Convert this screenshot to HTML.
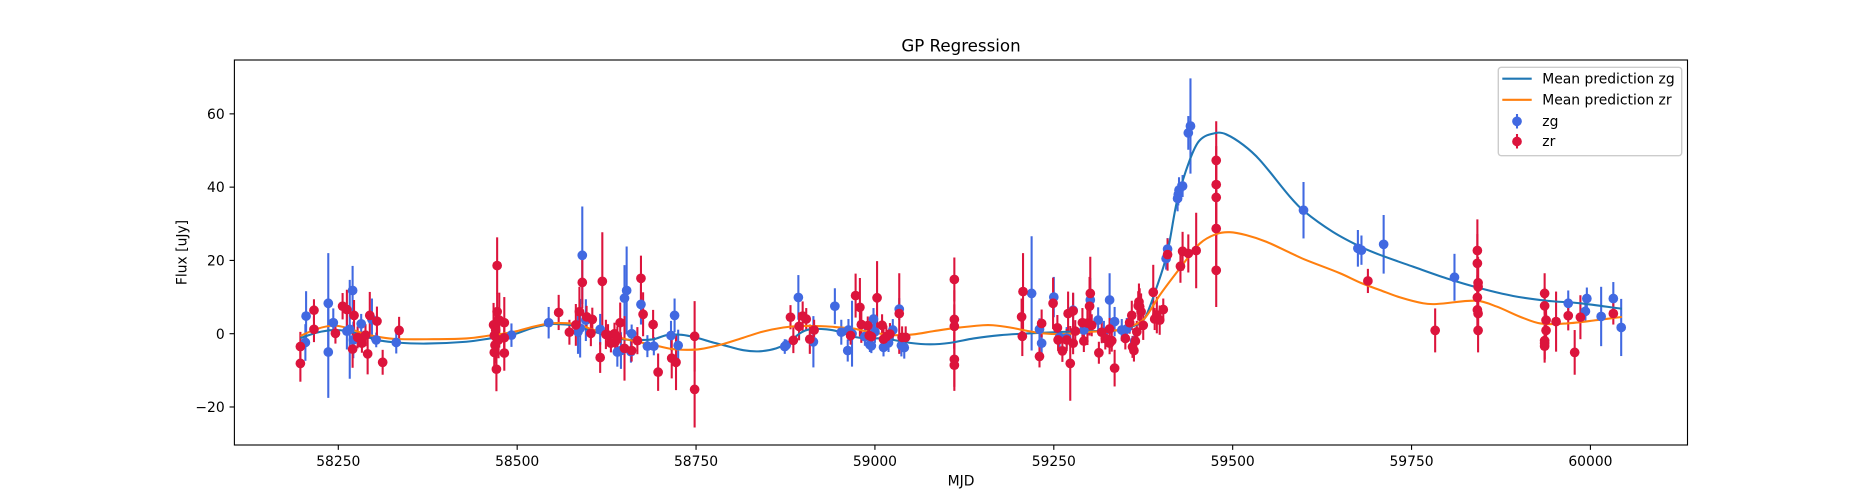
<!DOCTYPE html>
<html lang="en">
<head>
<meta charset="utf-8">
<title>GP Regression</title>
<style>
html,body{margin:0;padding:0;background:#fff;width:1875px;height:500px;overflow:hidden}
svg{display:block}
text{font-family:"DejaVu Sans","Liberation Sans",sans-serif;fill:#000}
</style>
</head>
<body>
<svg id="chart" xmlns="http://www.w3.org/2000/svg" width="1875" height="500" viewBox="0 0 1875 500">
  <rect x="0" y="0" width="1875" height="500" fill="#fff"/>
  <text x="961" y="51.7" font-size="16.67" text-anchor="middle">GP Regression</text>
  <text x="961" y="485.7" font-size="13.89" text-anchor="middle">MJD</text>
  <text transform="translate(186.5 252.5) rotate(-90)" font-size="13.89" text-anchor="middle">Flux [uJy]</text>
  <g id="bars"></g>
  <g id="curves"></g>
  <g id="points"></g>
  <g id="axes"></g>
  <g id="legend">
    <rect x="1498.3" y="67.3" width="183.4" height="88.4" rx="3" ry="3" fill="#fff" fill-opacity="0.8" stroke="#ccc" stroke-width="1.39"/>
    <line x1="1502.3" x2="1531.7" y1="78.7" y2="78.7" stroke="#1f77b4" stroke-width="2.08"/>
    <text x="1542.3" y="83.4" font-size="13.89">Mean prediction zg</text>
    <line x1="1502.3" x2="1531.7" y1="99.8" y2="99.8" stroke="#ff7f0e" stroke-width="2.08"/>
    <text x="1542.3" y="104.4" font-size="13.89">Mean prediction zr</text>
    <line x1="1517" x2="1517" y1="114" y2="128.5" stroke="#4169e1" stroke-width="2.08"/>
    <circle cx="1517" cy="121.3" r="4.86" fill="#4169e1"/>
    <text x="1542.3" y="125.8" font-size="13.89">zg</text>
    <line x1="1517" x2="1517" y1="134" y2="148.5" stroke="#dc143c" stroke-width="2.08"/>
    <circle cx="1517" cy="141.5" r="4.86" fill="#dc143c"/>
    <text x="1542.3" y="146" font-size="13.89">zr</text>
  </g>
</svg>
<script>
const xTickValues = [58250, 58500, 58750, 59000, 59250, 59500, 59750, 60000];
const yTickValues = [-20, 0, 20, 40, 60];

const zgMjd = [58204,58205,58236,58236,58243,58262,58266,58270,58271,58282,58297,58303,58331,58492,58544,58585,58588,58591,58596,58616,58640,58645,58650,58653,58659,58660,58673,58682,58691,58715,58720,58725,58874,58876,58893,58914,58944,58953,58962,58963,58968,58986,58993,58995,58998,59000,59012,59019,59025,59034,59037,59041,59219,59230,59233,59250,59258,59268,59277,59292,59301,59312,59320,59328,59335,59345,59352,59363,59407,59409,59423,59424,59425,59430,59438,59441,59599,59675,59680,59711,59810,59969,59993,59995,60015,60032,60043];
const zgFlux = [-2.4,4.8,8.3,-5,3,0.7,1.2,11.8,-1.7,2.7,3.9,-1.7,-2.4,-0.4,3,0.5,1.5,21.4,3.7,1.2,-5,-4.6,9.7,11.8,-4.9,0,8,-3.4,-3.4,-0.5,5,-3.2,-3.5,-3.1,9.9,-2.2,7.5,0.4,-4.6,1,0,-0.8,-3,-3.3,4,0.5,-3.7,-2.5,1,6.7,-3.2,-3.8,11,1.2,-2.6,10,-1,-1.2,6.4,1,9.2,3.7,0.5,9.2,3.3,1,1.3,-2,20.5,23.1,36.9,38,39.2,40.3,54.8,56.7,33.7,23.3,22.8,24.4,15.4,8.3,6.1,9.6,4.7,9.6,1.7];
const zgErr = [5,6.8,13.7,12.5,3.9,5,13.5,6.7,5,2.7,5.7,2,3,3.2,4.3,6,8,13.3,5.7,4.2,4,5,9,12,3,2.5,5.5,3,2.5,4,4.6,4.3,2,1.5,6.1,7,4.9,3.4,3,3,9,2.5,2,2,3,3,2.5,2.5,3,3,3,3,15.6,3,3,5.5,3,3,4.6,3,6,3.5,3,7.3,4,3,3,3,3,3,3.5,3,3.5,3,4.6,13,7.7,5,4,8,6.4,3.5,3,3,8.1,4.5,7.8];

const zrMjd = [58197,58197,58216,58216,58246,58256,58262,58270,58272,58277,58283,58288,58291,58294,58304,58312,58335,58467,58468,58468,58469,58470,58471,58472,58472,58474,58475,58482,58482,58482,58558,58573,58582,58587,58591,58597,58603,58605,58616,58619,58624,58627,58631,58636,58637,58640,58644,58650,58660,58668,58673,58676,58690,58697,58716,58722,58748,58748,58882,58886,58894,58899,58904,58909,58915,58966,58973,58979,58981,58990,58992,58995,59003,59010,59012,59016,59021,59034,59038,59043,59111,59111,59111,59111,59111,59205,59206,59207,59230,59233,59249,59255,59256,59262,59268,59270,59273,59277,59277,59280,59290,59292,59297,59300,59301,59303,59313,59317,59322,59328,59331,59335,59328,59350,59356,59359,59360,59362,59364,59366,59368,59369,59370,59372,59375,59389,59391,59394,59398,59403,59409,59427,59430,59438,59449,59477,59477,59477,59477,59477,59689,59783,59842,59842,59843,59843,59842,59842,59843,59843,59936,59936,59938,59938,59936,59936,59936,59952,59969,59978,59986,60032];
const zrFlux = [-3.5,-8.1,6.4,1.2,0.1,7.5,6.6,-4.2,5,-1,-2.6,-0.4,-5.5,5,3.4,-7.8,0.9,2.4,-0.5,-5.1,-3.1,1,-9.7,18.6,6,-1.7,3.7,3,-1.1,-5.3,5.8,0.4,2.4,6,14,4.6,0.1,3.9,-6.5,14.3,-0.2,-0.4,-2.6,0,-2.2,-1,3,-4,-4.6,-1.9,15.1,5.3,2.5,-10.5,-6.7,-7.8,-0.7,-15.2,4.5,-1.8,2,4.8,4,-1.5,1,-0.5,10.4,7.2,2.5,2.2,-0.5,-0.8,9.8,2.3,-1.5,-0.8,-0.1,5.5,-1,-1,14.8,3.9,2,-7,-8.6,4.6,-0.7,11.5,-6.2,2.8,8.3,1.6,-1.7,-4.7,-1.7,5.5,-8.1,-2.6,6.2,0.7,3,-2,2.9,7.5,11,2.3,-5.2,0.4,-1.3,-2.6,-1.9,-9.4,1.3,-1.3,3,5,-3.6,-4.6,-2,0.5,7.6,8.7,7.4,6,2.3,11.3,4,5.1,3.7,6.6,21.6,18.4,22.5,21.9,22.7,47.3,40.7,37.2,28.7,17.3,14.4,0.9,22.7,19.2,13.9,12.8,9.9,6.5,5.5,0.9,11,7.6,3.7,0.9,-1.9,-2.6,-3.4,3.3,4.9,-5.1,4.5,5.5];
const zrErr = [4,5,3,3.5,2.8,3.6,5.4,5.1,4.2,3,2.6,3,5.6,6.4,4,3.4,3.7,6,5,5.5,5,5,6,7.7,5,5,7.5,7,5,4.8,4.8,3.4,5.7,6.8,7,3,3.5,3.2,4.2,13.4,4,3,2.5,3,3,3,5.5,8.8,3,3.7,6.2,6,4,5.1,5.5,7.6,9.6,10.4,3.3,3.5,3.8,4,3,4,2.8,2.5,6,8,5,2.5,3,3,10,3,3,3,3,11,3,3,6,8,6,7.5,7,5,5.4,10.5,3,3.8,7,3.5,3,3,3,6,10.2,3,5,3,4,3,6,8,10,3,3,3,3,3,3,5,3,3,3,4,3,3,3,3,4,5,5,5,4,7.5,3,5,4,3,4.4,4.5,5.3,5.2,10.3,10.7,10.5,10.5,10.5,10,3.3,6,8.5,8,7,7,6,5,6,6,5.5,5,5,4.5,5,4.5,4.5,8.2,4,6.1,6,3];

const curveZgMjd = [58197,58220,58243,58262,58283,58304,58331,58373,58429,58462,58495,58522,58546,58560,58574,58588,58600,58620,58640,58660,58677,58691,58709,58730,58751,58770,58788,58816,58839,58862,58881,58895,58909,58932,58951,58970,58988,59012,59049,59077,59105,59138,59175,59217,59263,59300,59340,59360,59377,59394,59409,59422,59440,59454,59477,59491,59515,59538,59580,59600,59640,59680,59706,59752,59799,59846,59892,59939,59986,60044];
const curveZgFlux = [-1.2,0.3,1,0.7,-0.3,-1.7,-2.4,-2.7,-2.2,-1.3,-0.2,1.6,2.6,2.6,2.4,1.9,1,-0.2,-1.3,-1.7,-1.7,-1.5,-0.4,-0.3,-1.1,-2.2,-3.1,-4.5,-4.8,-4,-2.2,0.1,1.2,1.2,0.5,-0.8,-1.3,-1.3,-2.5,-2.9,-2.5,-1.3,-0.4,0.1,0.5,0.7,0.9,2,4.2,12.8,22.4,36,47.4,52.8,54.8,54.4,51.5,47.4,37.4,33.4,27.8,23.6,21.5,18.3,15.1,12.4,10.3,9,8.3,6.8];
const curveZrMjd = [58197,58220,58243,58262,58283,58304,58331,58383,58429,58462,58495,58522,58546,58560,58574,58588,58600,58620,58635,58648,58668,58691,58714,58737,58756,58788,58816,58844,58872,58895,58932,58951,58970,58993,59012,59026,59053,59082,59110,59151,59165,59189,59212,59235,59263,59300,59340,59360,59377,59398,59426,59454,59477,59496,59519,59547,59580,59600,59650,59680,59706,59734,59766,59785,59841,59869,59902,59930,59967,60009,60044];
const curveZrFlux = [-0.6,1.3,2.2,1.6,0.2,-0.8,-1.45,-1.5,-1.3,-0.5,0.5,1.9,2.8,2.9,2.8,2.4,1.5,0.3,-0.6,-1.3,-2.2,-3.1,-4.1,-4.4,-4.2,-2.8,-1.1,0.6,1.7,2.1,2,1.7,1.4,0.4,-0.1,-0.4,-0.2,0.7,1.5,2.3,2.3,1.7,0.8,0.1,-0.1,0.5,1,2.2,4.2,10.5,17.8,24.6,27.2,27.7,26.9,25.1,22.1,20.3,16.5,13.8,11.9,9.9,8.3,8.1,9,7.4,4.6,2.8,2.8,3.7,4.6];

const PLOT_LEFT = 234.4, PLOT_RIGHT = 1687.5, PLOT_TOP = 60, PLOT_BOTTOM = 445;
const X_ORIGIN_VALUE = 58250, X_ORIGIN_PX = 338.3, X_SCALE = 0.7155;
const Y_ORIGIN_PX = 333.7, Y_SCALE = 3.664;
const SVG_NS = 'http://www.w3.org/2000/svg';

function xScale(m) { return X_ORIGIN_PX + (m - X_ORIGIN_VALUE) * X_SCALE; }
function yScale(f) { return Y_ORIGIN_PX - f * Y_SCALE; }
function make(tag) { return document.createElementNS(SVG_NS, tag); }

const barsGroup = document.getElementById('bars');
const curvesGroup = document.getElementById('curves');
const pointsGroup = document.getElementById('points');
const axesGroup = document.getElementById('axes');

function drawBars(mjd, flux, err, color, label) {
  mjd.forEach(function (m, i) {
    const el = make('line');
    el.setAttribute('x1', xScale(m));
    el.setAttribute('x2', xScale(m));
    el.setAttribute('y1', yScale(flux[i] - err[i]));
    el.setAttribute('y2', yScale(flux[i] + err[i]));
    el.setAttribute('stroke', color);
    el.setAttribute('stroke-width', 2.08);
    
    
    barsGroup.appendChild(el);
  });
}

function drawPoints(mjd, flux, color, label) {
  mjd.forEach(function (m, i) {
    const el = make('circle');
    el.setAttribute('cx', xScale(m));
    el.setAttribute('cy', yScale(flux[i]));
    el.setAttribute('r', 4.86);
    el.setAttribute('fill', color);
    
    
    pointsGroup.appendChild(el);
  });
}

function drawCurve(mjd, flux, color, label) {
  const pts = mjd.map(function (m, i) { return [xScale(m), yScale(flux[i])]; });
  let d = 'M' + pts[0][0] + ' ' + pts[0][1];
  for (let i = 0; i < pts.length - 1; i++) {
    const p0 = pts[Math.max(i - 1, 0)], p1 = pts[i], p2 = pts[i + 1], p3 = pts[Math.min(i + 2, pts.length - 1)];
    const dx = (p2[0] - p1[0]) / 3;
    const s1 = (p2[1] - p0[1]) / (p2[0] - p0[0]);
    const s2 = (p3[1] - p1[1]) / (p3[0] - p1[0]);
    d += 'C' + (p1[0] + dx) + ' ' + (p1[1] + s1 * dx) + ' ' + (p2[0] - dx) + ' ' + (p2[1] - s2 * dx) + ' ' + p2[0] + ' ' + p2[1];
  }
  const el = make('path');
  el.setAttribute('d', d);
  el.setAttribute('fill', 'none');
  el.setAttribute('stroke', color);
  el.setAttribute('stroke-width', 2.08);
  
  
  curvesGroup.appendChild(el);
}

function drawAxes() {
  const frame = make('rect');
  frame.setAttribute('x', PLOT_LEFT);
  frame.setAttribute('y', PLOT_TOP);
  frame.setAttribute('width', PLOT_RIGHT - PLOT_LEFT);
  frame.setAttribute('height', PLOT_BOTTOM - PLOT_TOP);
  frame.setAttribute('fill', 'none');
  frame.setAttribute('stroke', '#000');
  frame.setAttribute('stroke-width', 1.11);
  
  
  axesGroup.appendChild(frame);

  xTickValues.forEach(function (v) {
    const tick = make('line');
    tick.setAttribute('x1', xScale(v));
    tick.setAttribute('x2', xScale(v));
    tick.setAttribute('y1', PLOT_BOTTOM);
    tick.setAttribute('y2', PLOT_BOTTOM + 4.86);
    tick.setAttribute('stroke', '#000');
    tick.setAttribute('stroke-width', 1.11);
    
    
    axesGroup.appendChild(tick);
    const label = make('text');
    label.setAttribute('x', xScale(v));
    label.setAttribute('y', PLOT_BOTTOM + 21);
    label.setAttribute('font-size', 13.89);
    label.setAttribute('text-anchor', 'middle');
    
    
    label.textContent = String(v);
    axesGroup.appendChild(label);
  });

  yTickValues.forEach(function (v) {
    const tick = make('line');
    tick.setAttribute('x1', PLOT_LEFT - 4.86);
    tick.setAttribute('x2', PLOT_LEFT);
    tick.setAttribute('y1', yScale(v));
    tick.setAttribute('y2', yScale(v));
    tick.setAttribute('stroke', '#000');
    tick.setAttribute('stroke-width', 1.11);
    
    
    axesGroup.appendChild(tick);
    const label = make('text');
    label.setAttribute('x', PLOT_LEFT - 9.7);
    label.setAttribute('y', yScale(v) + 5.05);
    label.setAttribute('font-size', 13.89);
    label.setAttribute('text-anchor', 'end');
    
    
    label.textContent = v < 0 ? '\u2212' + Math.abs(v) : String(v);
    axesGroup.appendChild(label);
  });
}

drawBars(zgMjd, zgFlux, zgErr, '#4169e1', 'zg');
drawBars(zrMjd, zrFlux, zrErr, '#dc143c', 'zr');
drawCurve(curveZgMjd, curveZgFlux, '#1f77b4', 'zg');
drawCurve(curveZrMjd, curveZrFlux, '#ff7f0e', 'zr');
drawPoints(zgMjd, zgFlux, '#4169e1', 'zg');
drawPoints(zrMjd, zrFlux, '#dc143c', 'zr');
drawAxes();
</script>
</body>
</html>
